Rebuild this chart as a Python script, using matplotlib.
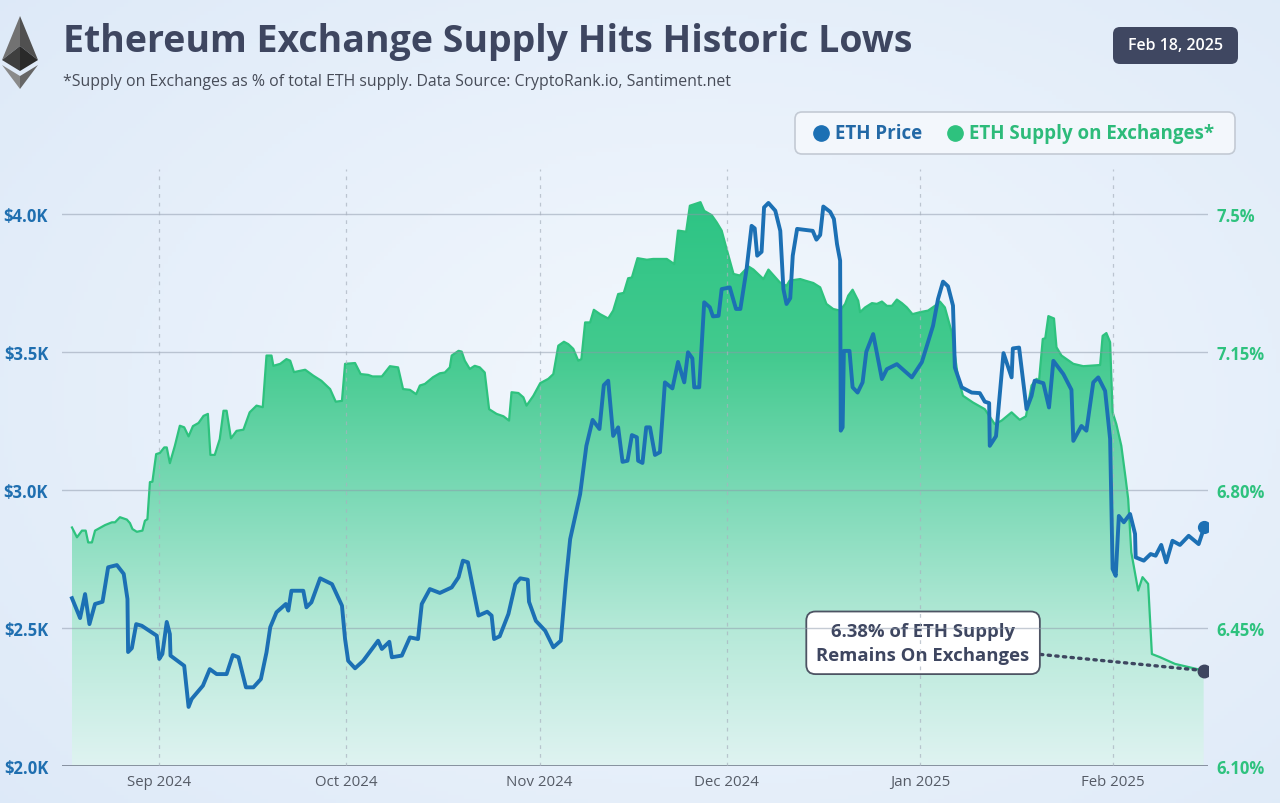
import numpy as np
import pandas as pd
import matplotlib
matplotlib.use("Agg")
import matplotlib.pyplot as plt
import matplotlib.dates as mdates
from matplotlib.patches import FancyBboxPatch, Polygon
from matplotlib.colors import LinearSegmentedColormap

plt.rcParams['font.family'] = ['Open Sans', 'DejaVu Sans']

# ---- data ----
start = pd.Timestamp('2024-08-18')

# days since start, ETH price in USD
price_days = [0.0, 1.3, 2.1, 2.8, 3.7, 4.9, 5.8, 7.2, 8.3, 8.9,
              9.0, 9.6, 10.3, 11.2, 13.6, 14.0, 14.5, 15.2, 15.7, 15.8,
              18.0, 18.7, 19.2, 21.0, 22.1, 23.2, 24.8, 25.8, 26.7, 27.9,
              29.1, 30.3, 31.2, 31.8, 32.8, 34.3, 34.7, 35.2, 37.1, 37.6,
              38.4, 39.8, 41.7, 43.3, 43.8, 44.3, 45.4, 46.7, 49.1, 49.7,
              50.9, 51.3, 52.9, 54.2, 55.5, 56.1, 57.4, 59.0, 60.9, 62.0,
              62.7, 63.5, 65.2, 66.6, 67.3, 67.7, 68.6, 70.0, 71.1, 71.9,
              73.1, 73.3, 74.4, 75.9, 77.2, 78.4, 79.2, 79.9, 81.5, 82.5,
              83.5, 84.6, 85.3, 86.0, 86.8, 87.6, 88.3, 89.1, 89.8, 90.6,
              90.8, 91.5, 92.1, 92.7, 93.5, 94.3, 95.1, 96.3, 97.2, 98.2,
              98.8, 99.5, 99.8, 100.6, 101.4, 102.3, 102.8, 103.7, 104.2, 105.5,
              106.5, 107.2, 108.2, 109.0, 109.5, 109.9, 110.6, 111.0, 111.7, 112.8,
              113.6, 114.1, 114.6, 115.2, 115.6, 116.3, 118.8, 119.4, 120.0, 120.5,
              121.6, 122.2, 122.7, 123.2, 123.3, 123.6, 123.8, 124.7, 125.2, 126.0,
              126.8, 127.4, 128.5, 129.9, 130.7, 132.3, 134.7, 136.3, 138.1, 138.9,
              139.7, 140.5, 141.3, 141.6, 142.7, 144.3, 145.6, 146.4, 147.1, 147.2,
              148.2, 149.4, 150.7, 150.9, 151.9, 153.1, 153.9, 154.4, 155.8, 156.7,
              157.4, 159.0, 160.3, 160.6, 161.9, 162.7, 163.8, 164.6, 165.7, 166.5,
              166.9, 167.4, 167.9, 168.7, 169.7, 170.5, 170.6, 171.9, 173.0, 173.8,
              174.7, 175.5, 176.5, 177.7, 179.1, 180.7, 181.6]
price_usd = [2608, 2536, 2623, 2514, 2587, 2595, 2720, 2728, 2696, 2605,
             2413, 2427, 2514, 2508, 2472, 2388, 2406, 2522, 2478, 2400,
             2363, 2214, 2243, 2291, 2351, 2333, 2333, 2402, 2394, 2285,
             2285, 2315, 2412, 2503, 2557, 2587, 2563, 2635, 2635, 2575,
             2593, 2680, 2659, 2581, 2460, 2381, 2354, 2381, 2454, 2424,
             2450, 2394, 2400, 2466, 2460, 2587, 2641, 2627, 2647, 2684,
             2744, 2738, 2545, 2559, 2545, 2460, 2470, 2551, 2659, 2680,
             2675, 2595, 2526, 2490, 2430, 2454, 2666, 2822, 2985, 3160,
             3254, 3221, 3380, 3396, 3196, 3227, 3102, 3106, 3199, 3191,
             3106, 3098, 3227, 3227, 3127, 3137, 3390, 3368, 3464, 3390,
             3499, 3477, 3372, 3372, 3680, 3662, 3629, 3631, 3728, 3734,
             3656, 3656, 3801, 3957, 3948, 3849, 3863, 4024, 4040, 4012,
             3939, 3728, 3674, 3695, 3849, 3946, 3939, 3907, 3924, 4027,
             4008, 3982, 3891, 3831, 3215, 3227, 3504, 3504, 3372, 3353,
             3390, 3501, 3565, 3402, 3438, 3456, 3408, 3463, 3595, 3692,
             3755, 3738, 3668, 3444, 3372, 3353, 3351, 3320, 3315, 3160,
             3195, 3496, 3408, 3513, 3516, 3293, 3341, 3396, 3387, 3299,
             3468, 3420, 3363, 3178, 3232, 3215, 3390, 3408, 3359, 3185,
             2714, 2689, 2906, 2883, 2913, 2841, 2756, 2744, 2768, 2762,
             2801, 2738, 2816, 2801, 2834, 2804, 2865]

# days since start, supply on exchanges in % of total ETH supply
supply_days = [0.0, 0.8, 1.6, 2.2, 2.6, 3.2, 3.7, 5.3, 6.4, 6.9,
               7.7, 8.8, 9.3, 9.7, 10.4, 11.3, 11.7, 12.1, 12.5, 12.9,
               13.5, 14.1, 14.8, 15.2, 15.7, 16.5, 17.3, 18.0, 18.7, 19.4,
               20.3, 21.1, 21.8, 22.2, 22.9, 23.7, 24.3, 24.8, 25.5, 26.4,
               27.5, 28.5, 29.6, 30.6, 31.2, 32.0, 32.3, 33.4, 34.4, 35.0,
               35.6, 37.4, 38.7, 40.0, 41.4, 42.3, 43.3, 43.8, 45.4, 46.3,
               47.5, 48.2, 49.7, 51.0, 52.3, 53.1, 54.2, 55.2, 55.8, 56.6,
               57.9, 59.0, 59.8, 60.6, 60.9, 62.0, 62.5, 63.0, 63.8, 64.6,
               65.4, 66.2, 66.9, 68.1, 69.2, 70.1, 70.5, 71.6, 72.4, 72.9,
               74.0, 75.1, 76.4, 77.2, 78.0, 78.9, 79.6, 80.4, 81.2, 81.7,
               82.3, 83.1, 83.7, 84.7, 86.0, 86.8, 87.6, 88.5, 89.2, 89.8,
               90.7, 92.2, 93.2, 94.3, 95.4, 96.6, 97.2, 98.5, 99.1, 100.8,
               101.4, 102.6, 103.4, 104.2, 105.0, 106.1, 107.1, 108.5, 109.3, 110.9,
               111.7, 113.5, 114.6, 115.1, 116.8, 117.6, 118.9, 120.0, 121.0, 122.1,
               123.2, 124.0, 124.5, 125.2, 126.1, 126.4, 127.2, 128.3, 129.1, 129.9,
               130.7, 131.5, 132.3, 133.1, 133.9, 134.8, 136.0, 137.3, 138.4, 139.2,
               140.0, 141.1, 142.1, 142.9, 144.5, 146.4, 148.0, 149.1, 150.7, 152.0,
               153.0, 153.9, 154.7, 155.1, 155.7, 156.1, 156.6, 157.5, 157.9, 158.7,
               160.6, 162.2, 164.9, 165.3, 165.9, 166.5, 166.9, 167.5, 168.3, 169.0,
               169.4, 169.9, 171.0, 171.7, 172.6, 173.2, 174.5, 176.9, 181.5]
supply_pct = [6.705, 6.680, 6.697, 6.697, 6.667, 6.667, 6.697, 6.711, 6.718, 6.718,
              6.731, 6.725, 6.716, 6.701, 6.694, 6.697, 6.722, 6.726, 6.820, 6.821,
              6.891, 6.894, 6.908, 6.908, 6.868, 6.912, 6.963, 6.959, 6.936, 6.962,
              6.970, 6.988, 6.993, 6.889, 6.889, 6.929, 7.001, 7.001, 6.931, 6.950,
              6.953, 6.997, 7.014, 7.010, 7.141, 7.141, 7.115, 7.120, 7.132, 7.128,
              7.099, 7.105, 7.090, 7.077, 7.056, 7.024, 7.026, 7.120, 7.122, 7.094,
              7.092, 7.088, 7.088, 7.114, 7.111, 7.056, 7.054, 7.043, 7.065, 7.069,
              7.086, 7.096, 7.098, 7.111, 7.141, 7.153, 7.151, 7.128, 7.107, 7.115,
              7.111, 7.098, 7.005, 6.993, 6.987, 6.976, 7.048, 7.046, 7.035, 7.014,
              7.039, 7.071, 7.082, 7.094, 7.166, 7.176, 7.170, 7.158, 7.128, 7.132,
              7.225, 7.225, 7.257, 7.246, 7.235, 7.255, 7.297, 7.300, 7.337, 7.339,
              7.388, 7.384, 7.386, 7.386, 7.386, 7.373, 7.458, 7.455, 7.521, 7.530,
              7.508, 7.497, 7.479, 7.458, 7.411, 7.348, 7.344, 7.367, 7.359, 7.335,
              7.359, 7.327, 7.318, 7.331, 7.335, 7.331, 7.325, 7.314, 7.272, 7.259,
              7.255, 7.272, 7.293, 7.308, 7.280, 7.251, 7.263, 7.274, 7.272, 7.278,
              7.267, 7.267, 7.283, 7.274, 7.263, 7.246, 7.251, 7.255, 7.267, 7.278,
              7.263, 7.200, 7.086, 7.039, 7.022, 7.005, 6.967, 6.976, 6.997, 6.978,
              6.987, 7.065, 7.082, 7.077, 7.183, 7.185, 7.241, 7.235, 7.162, 7.141,
              7.120, 7.114, 7.117, 7.191, 7.198, 7.175, 6.997, 6.967, 6.912, 6.828,
              6.777, 6.642, 6.545, 6.579, 6.562, 6.384, 6.376, 6.359, 6.342]

price_ticks = [2000, 2500, 3000, 3500, 4000]
price_labels = ['$2.0K', '$2.5K', '$3.0K', '$3.5K', '$4.0K']
supply_ticks = [6.10, 6.45, 6.80, 7.15, 7.50]
supply_labels = ['6.10%', '6.45%', '6.80%', '7.15%', '7.5%']

title = 'Ethereum Exchange Supply Hits Historic Lows'
subtitle = '*Supply on Exchanges as % of total ETH supply. Data Source: CryptoRank.io, Santiment.net'
date_stamp = 'Feb 18, 2025'
callout = '6.38% of ETH Supply\nRemains On Exchanges'

BLUE = '#1c70b4'
GREEN = '#2ec27e'
SLATE = '#3e4660'

px = mdates.date2num(start + pd.to_timedelta(np.array(price_days), unit='D'))
sx = mdates.date2num(start + pd.to_timedelta(np.array(supply_days), unit='D'))

fig = plt.figure(figsize=(12.8, 8.04), dpi=100)

# soft blue page background
bg = fig.add_axes([0, 0, 1, 1], zorder=-10)
yy, xx = np.mgrid[0:1:200j, 0:1:320j]
r = np.sqrt(((xx - 0.55) / 0.75) ** 2 + ((yy - 0.5) / 0.8) ** 2)
bg_cmap = LinearSegmentedColormap.from_list('bg', ['#f3f8fd', '#dde9f8'])
bg.imshow(np.clip(r, 0, 1), cmap=bg_cmap, aspect='auto', extent=[0, 1, 0, 1], vmin=0, vmax=1)
bg.axis('off')

# main axes, in pixel layout of the reference
L, R, T, B = 62, 1208, 170, 767
ax = fig.add_axes([L / 1280, 1 - B / 804, (R - L) / 1280, (B - T) / 804])
ax2 = ax.twinx()
ax.set_zorder(ax2.get_zorder() + 1)
ax.patch.set_visible(False)
ax2.patch.set_visible(False)

# supply area with vertical gradient
poly = ax2.fill_between(sx, supply_pct, 6.10, facecolor='none', edgecolor='none')
fill_cmap = LinearSegmentedColormap.from_list(
    'fill', [(0, '#dff3f1'), (0.241, '#b5e9d8'), (0.483, '#7ad9b5'),
             (0.724, '#42ca8e'), (1.0, '#2cc484')])
grad = np.linspace(1, 0, 256).reshape(-1, 1)
im = ax2.imshow(grad, cmap=fill_cmap, aspect='auto', origin='upper',
                extent=[sx[0], sx[-1], 6.10, 7.55], vmin=0, vmax=1, zorder=1)
im.set_clip_path(poly.get_paths()[0], transform=ax2.transData)
ax2.plot(sx, supply_pct, color=GREEN, lw=1.6, zorder=3)
ax2.plot(sx[-1], supply_pct[-1], 'o', ms=9, color=SLATE, zorder=8)

ax2.annotate(callout, xy=(sx[-1], supply_pct[-1]), xytext=(-202, 20),
             textcoords='offset points', ha='center', va='center',
             fontsize=13.3, fontweight='bold', color=SLATE, linespacing=1.45,
             bbox=dict(boxstyle='round,pad=0.55,rounding_size=0.5', fc='white',
                       ec='#4d5363', lw=1.3),
             arrowprops=dict(arrowstyle='-', color=SLATE, lw=2.4,
                             linestyle=(0, (0.7, 1.6)), shrinkA=0, shrinkB=4),
             zorder=7)

# grid (on the top axes, under the price line)
for t in price_ticks[1:]:
    ax.axhline(t, color='#8d98aa', lw=1, alpha=0.5, zorder=1)
ax.axhline(2000, color='#7f8998', lw=1.3, zorder=1)
for m in pd.date_range('2024-09-01', '2025-02-01', freq='MS'):
    ax.axvline(mdates.date2num(m), color='#a9b2bf', lw=0.9, ls=(0, (3, 4)), alpha=0.7, zorder=1)

ax.plot(px, price_usd, color=BLUE, lw=2.8, zorder=4, solid_joinstyle='round')
ax.plot(px[-1], price_usd[-1], 'o', ms=8.5, color=BLUE, zorder=5)

x0 = mdates.date2num(start - pd.Timedelta(days=1.6))
x1 = mdates.date2num(start + pd.Timedelta(days=182.2))
ax.set_xlim(x0, x1)
ax.set_ylim(2000, 2000 + (B - T) / 0.276)
ax2.set_ylim(6.10, 6.10 + (B - T) * 1.4 / 552)

ax.set_yticks(price_ticks)
ax.set_yticklabels(price_labels, fontweight='bold', color='#1f6fb0', fontsize=12)
ax2.set_yticks(supply_ticks)
ax2.set_yticklabels(supply_labels, fontweight='bold', color=GREEN, fontsize=12)
ax.tick_params(axis='y', length=0, pad=10)
ax2.tick_params(axis='y', length=0, pad=6)
ax.xaxis.set_major_locator(mdates.MonthLocator())
ax.xaxis.set_major_formatter(mdates.DateFormatter('%b %Y'))
ax.tick_params(axis='x', length=0, pad=6, labelsize=10.8, labelcolor='#555b66')
for a in (ax, ax2):
    for s in a.spines.values():
        s.set_visible(False)

# header overlay in pixel coordinates
ov = fig.add_axes([0, 0, 1, 1], zorder=10)
ov.set_xlim(0, 1280)
ov.set_ylim(804, 0)
ov.axis('off')

# ethereum logo
logo = [
    ([(20, 17), (2, 61), (20, 47)], '#727272'),
    ([(20, 17), (38, 61), (20, 47)], '#505050'),
    ([(2, 61), (20, 47), (20, 72)], '#3f3f3f'),
    ([(38, 61), (20, 47), (20, 72)], '#2a2a2a'),
    ([(2, 66), (20, 77), (20, 90)], '#8a8a8a'),
    ([(38, 66), (20, 77), (20, 90)], '#666666'),
]
for pts, c in logo:
    ov.add_patch(Polygon(pts, closed=True, fc=c, ec='none'))

ov.text(63, 42, title, fontsize=27, fontweight='bold', color=SLATE, va='center', ha='left')
ov.text(63, 82, subtitle, fontsize=11.4, color='#474c58', va='center', ha='left')

ov.add_patch(FancyBboxPatch((1113, 28), 125, 37, boxstyle='round,pad=0,rounding_size=7',
                            fc='#3f4761', ec='none'))
ov.text(1175.5, 46.5, date_stamp, fontsize=11.5, fontweight='semibold', color='white',
        ha='center', va='center')

ov.add_patch(FancyBboxPatch((795, 113), 440, 42, boxstyle='round,pad=0,rounding_size=7',
                            fc='#f3f7fc', ec='#c3cad4', lw=1.2))
ov.plot(821, 134, 'o', ms=11, color=BLUE)
ov.text(835, 134, 'ETH Price', fontsize=13.5, fontweight='bold', color='#2369a6',
        va='center', ha='left')
ov.plot(955, 134, 'o', ms=11, color=GREEN)
ov.text(969, 134, 'ETH Supply on Exchanges*', fontsize=13.5, fontweight='bold',
        color='#2dbb7a', va='center', ha='left')

fig.savefig('out.png', dpi=100)
